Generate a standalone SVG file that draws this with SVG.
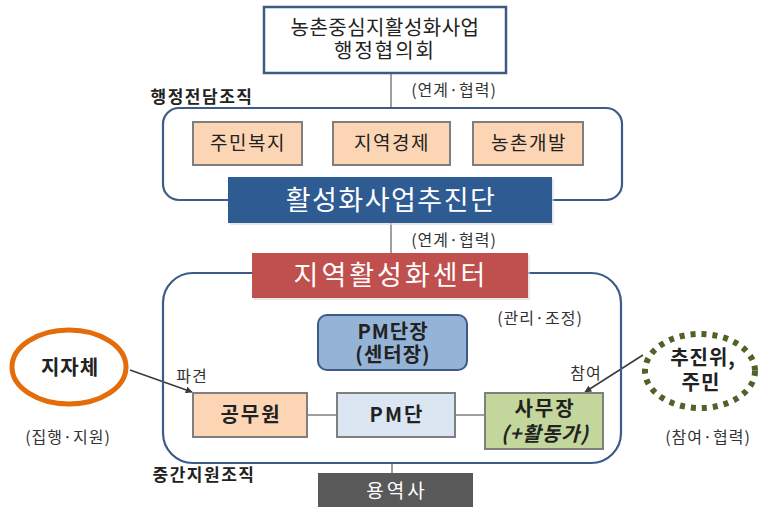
<svg xmlns="http://www.w3.org/2000/svg" width="761" height="507" viewBox="0 0 761 507">
<defs>
<style>
text{font-family:"Noto Sans CJK KR","Noto Sans",sans-serif;text-anchor:middle;fill:#222}
.t{font-size:19px;letter-spacing:1.5px}
.bt{font-size:20px;font-weight:bold;letter-spacing:1px}
.b{font-weight:bold}
.s{font-size:16px;fill:#333;letter-spacing:1px}
.peach{fill:#fcd5b4;stroke:#7f7f7f;stroke-width:2}
.cont{fill:none;stroke:#3e5a86;stroke-width:2.2}
.ln{stroke:#7f7f7f;stroke-width:1.5;fill:none}
.ar{stroke:#3a3a3a;stroke-width:1.5;fill:none}
</style>
<marker id="ah" viewBox="0 0 10 10" refX="9" refY="5" markerWidth="7" markerHeight="7" orient="auto" markerUnits="userSpaceOnUse">
<path d="M0,0 L10,5 L0,10 z" fill="#3a3a3a"/>
</marker>
</defs>
<rect width="761" height="507" fill="#fff"/>

<g id="connectors">
<line class="ln" x1="391" y1="73" x2="391" y2="108"/>
<line class="ln" x1="391" y1="223" x2="391" y2="253"/>
<line class="ln" x1="307" y1="415" x2="337" y2="415"/>
<line class="ln" x1="455" y1="415" x2="485" y2="415"/>
<line class="ln" x1="392" y1="463" x2="392" y2="473"/>
<line class="ar" x1="130" y1="370" x2="192" y2="392" marker-end="url(#ah)"/>
<line class="ar" x1="643" y1="355" x2="585" y2="392" marker-end="url(#ah)"/>
</g>

<g id="council">
<rect x="264" y="7" width="242" height="66" fill="#fff" stroke="#3e5a86" stroke-width="2.5"/>
<text x="385" y="35" style="font-size:20px;letter-spacing:0.5px">농촌중심지활성화사업</text>
<text x="385" y="58" style="font-size:20px;letter-spacing:2px">행정협의회</text>
</g>
<text class="s" x="454" y="96">(연계·협력)</text>

<g id="admin-org">
<text class="b" x="202" y="103" style="font-size:17px;letter-spacing:1.5px">행정전담조직</text>
<rect class="cont" x="163" y="108" width="459" height="92" rx="16"/>
</g>
<g id="welfare">
<rect class="peach" x="193" y="122" width="109" height="43"/>
<text class="t" x="248" y="150">주민복지</text>
</g>
<g id="economy">
<rect class="peach" x="333" y="122" width="117" height="43"/>
<text class="t" x="392" y="150">지역경제</text>
</g>
<g id="rural">
<rect class="peach" x="473" y="122" width="110" height="43"/>
<text class="t" x="529" y="150">농촌개발</text>
</g>
<g id="promotion">
<rect x="230" y="179" width="324" height="46" fill="#d9d9d9" opacity="0.6"/>
<rect x="228" y="177" width="324" height="46" fill="#2f5b93"/>
<text x="391" y="210" style="font-size:27px;fill:#fff;letter-spacing:1.5px">활성화사업추진단</text>
</g>
<text class="s" x="454" y="246">(연계·협력)</text>

<g id="support-org">
<rect class="cont" x="163" y="273" width="458" height="190" rx="30"/>
<text class="b" x="204" y="481" style="font-size:17px;letter-spacing:1.5px">중간지원조직</text>
</g>
<g id="center">
<rect x="254" y="255" width="276" height="45" fill="#d9d9d9" opacity="0.6"/>
<rect x="252" y="253" width="276" height="45" fill="#c0504d"/>
<text x="391" y="285" style="font-size:27px;fill:#fff;letter-spacing:3px">지역활성화센터</text>
</g>
<text class="s" x="540" y="324">(관리·조정)</text>

<g id="pm-leader">
<rect x="318" y="315" width="149" height="55" rx="9" fill="#95b3d7" stroke="#3e5a86" stroke-width="2"/>
<text class="bt" x="393" y="339">PM단장</text>
<text class="bt" x="393" y="362">(센터장)</text>
</g>
<g id="officer">
<rect class="peach" x="193" y="393" width="114" height="44"/>
<text class="bt" x="251" y="422" style="letter-spacing:2px">공무원</text>
</g>
<g id="pm-team">
<rect x="337" y="393" width="118" height="44" fill="#dce6f2" stroke="#7f7f7f" stroke-width="2"/>
<text class="bt" x="397" y="422" style="letter-spacing:2px">PM단</text>
</g>
<g id="manager">
<rect x="485" y="393" width="118" height="56" fill="#c3d69b" stroke="#7f7f7f" stroke-width="2"/>
<text class="bt" x="545" y="416" style="letter-spacing:2px">사무장</text>
<text class="bt" x="545" y="441" style="font-style:italic">(+활동가)</text>
</g>
<g id="contractor">
<rect x="318" y="473" width="155" height="34" fill="#595959"/>
<text x="397" y="498" style="font-size:19px;fill:#fff;letter-spacing:3px">용역사</text>
</g>

<g id="local-gov">
<ellipse cx="69" cy="367" rx="57" ry="37" fill="#fff" stroke="#e46c0a" stroke-width="5"/>
<text class="bt" x="70" y="375">지자체</text>
<text class="s" x="68" y="443">(집행·지원)</text>
</g>
<text class="s" x="192" y="382">파견</text>

<g id="residents">
<ellipse cx="700" cy="371" rx="55" ry="37" fill="#fff" stroke="#4f6228" stroke-width="6" stroke-dasharray="5 6"/>
<text class="bt" x="703" y="365">추진위,</text>
<text class="bt" x="701" y="390">주민</text>
<text class="s" x="708" y="443">(참여·협력)</text>
</g>
<text class="s" x="586" y="379">참여</text>
</svg>
